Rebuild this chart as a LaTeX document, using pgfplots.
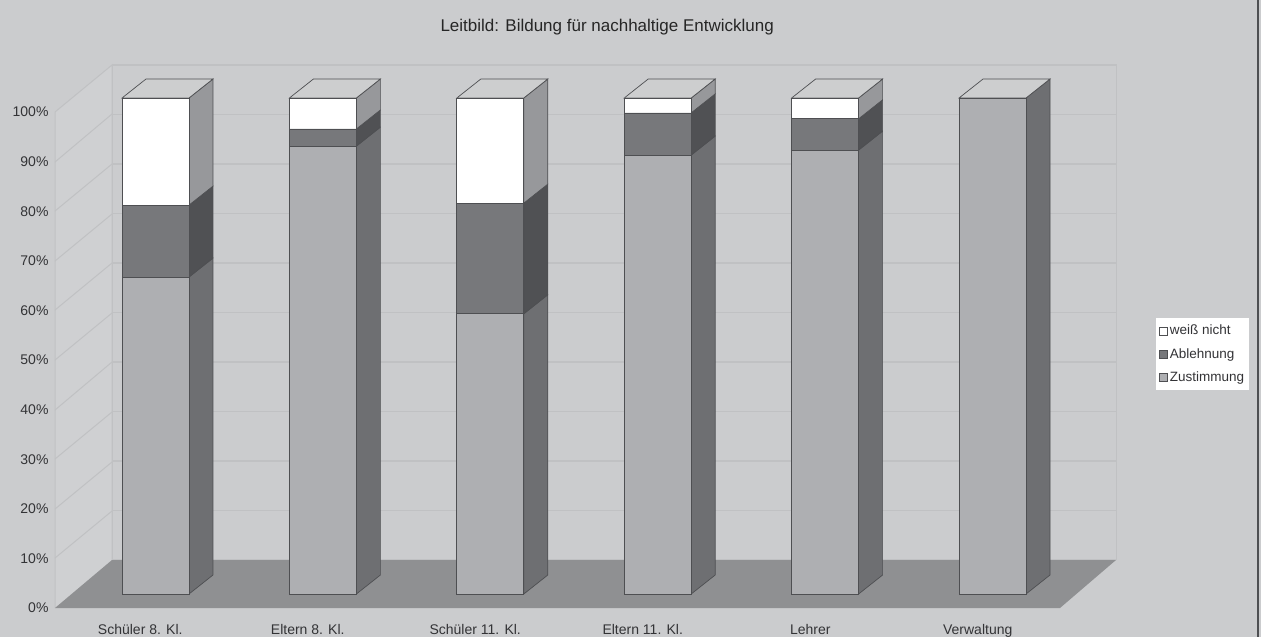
\documentclass[border=0pt]{standalone}
\usepackage{pgfplots}
\pgfplotsset{compat=1.18}
\usepackage{fontspec}
\setmainfont{Liberation Sans}
\definecolor{bgc}{HTML}{CBCCCE}
\definecolor{wallc}{HTML}{CFD0D2}
\definecolor{gridc}{HTML}{C0C1C3}
\definecolor{floorc}{HTML}{8F9092}
\definecolor{edgec}{HTML}{4E4F52}
\definecolor{zusf}{HTML}{AEAFB2}
\definecolor{zuss}{HTML}{6E6F72}
\definecolor{ablf}{HTML}{77787B}
\definecolor{abls}{HTML}{505154}
\definecolor{wnf}{HTML}{FFFFFF}
\definecolor{wns}{HTML}{97989B}
\definecolor{topc}{HTML}{CDCECF}
\definecolor{textc}{HTML}{333336}
\pgfplotsset{
  base/.style={scale only axis,anchor=south west,clip=false,
    tick style={draw=none},ticks=none,axis line style={draw=none}},
  barsaxis/.style={base,at={(0pt,0pt)},width=1261pt,height=637pt,
    xmin=-0.92891,xmax=6.60394,ymin=-8.669,ymax=119.758},
  side/.style={fill=#1,draw=edgec,line width=0.7pt,forget plot},
}
\begin{document}
\begin{tikzpicture}
\path[use as bounding box] (0,0) rectangle (1261pt,637pt);
% page: background, walls, floor, title
\begin{axis}[base,at={(0pt,0pt)},width=1261pt,height=637pt,
  xmin=0,xmax=1261,ymin=0,ymax=637,y dir=reverse,
  axis background/.style={fill=bgc},
  title={Leitbild: Bildung für nachhaltige Entwicklung},
  title style={at={(0.4815,0.948)},anchor=center,font=\fontsize{17}{19}\selectfont,text=black!85}]
\addplot[fill=wallc,draw=none] coordinates {(55,112) (112,65) (112,560) (55,608)} -- cycle;
\addplot[draw=gridc,line width=1pt] coordinates {(55,608) (55,112) (112,65) (112,560)};
\addplot[draw=gridc,line width=1pt] coordinates {(55,162) (112,114)};
\addplot[draw=gridc,line width=1pt] coordinates {(55,211) (112,164)};
\addplot[draw=gridc,line width=1pt] coordinates {(55,261) (112,214)};
\addplot[draw=gridc,line width=1pt] coordinates {(55,310) (112,263)};
\addplot[draw=gridc,line width=1pt] coordinates {(55,360) (112,313)};
\addplot[draw=gridc,line width=1pt] coordinates {(55,410) (112,362)};
\addplot[draw=gridc,line width=1pt] coordinates {(55,459) (112,412)};
\addplot[draw=gridc,line width=1pt] coordinates {(55,509) (112,462)};
\addplot[draw=gridc,line width=1pt] coordinates {(55,558) (112,511)};
\addplot[draw=edgec,line width=2.2pt] coordinates {(1258.2,0) (1258.2,637)};
\end{axis}
% back wall with its grid
\begin{axis}[scale only axis,anchor=south west,at={(112pt,77pt)},width=1004pt,height=495pt,
  xmin=0,xmax=1,ymin=0,ymax=100,xtick=\empty,ytick distance=10,yticklabels={},
  ymajorgrids,grid style={draw=gridc,line width=1.3pt},tick style={draw=none},
  axis line style={draw=gridc,line width=1pt}]
\addplot[draw=none] coordinates {(0,0) (1,100)};
\end{axis}
% floor
\begin{axis}[base,at={(0pt,0pt)},width=1261pt,height=637pt,
  xmin=0,xmax=1261,ymin=0,ymax=637,y dir=reverse]
\addplot[fill=floorc,draw=none] coordinates {(55,608) (112,560) (1116,560) (1060,608)} -- cycle;
\end{axis}
% front axis: tick labels
\begin{axis}[scale only axis,anchor=south west,at={(55pt,29pt)},width=1005pt,height=496pt,
  xmin=-0.5,xmax=5.5,ymin=0,ymax=100,
  axis line style={draw=none},tick style={draw=none},
  ytick distance=10,yticklabel={\pgfmathprintnumber{\tick}\%},
  xtick={0,1,2,3,4,5},
  xticklabels={Schüler 8. Kl.,Eltern 8. Kl.,Schüler 11. Kl.,Eltern 11. Kl.,Lehrer,Verwaltung},
  /pgf/number format/assume math mode=true,
  tick label style={font=\fontsize{14}{16}\selectfont,text=textc},
  yticklabel style={xshift=-3pt},
  xticklabel style={yshift=-12.5pt,xshift=1.5pt}]
\addplot[draw=none] coordinates {(0,0) (5,100)};
\end{axis}
% bar sides and tops
\begin{axis}[barsaxis]
% Schüler 8. Kl.
\addplot[side=zuss] coordinates {(0.2,0) (0.3434,3.83) (0.3434,67.73) (0.2,63.9)} -- cycle;
\addplot[side=abls] coordinates {(0.2,63.9) (0.3434,67.73) (0.3434,82.23) (0.2,78.4)} -- cycle;
\addplot[side=wns] coordinates {(0.2,78.4) (0.3434,82.23) (0.3434,103.83) (0.2,100)} -- cycle;
\addplot[side=topc] coordinates {(-0.2,100) (-0.0566,103.83) (0.3434,103.83) (0.2,100)} -- cycle;
% Eltern 8. Kl.
\addplot[side=zuss] coordinates {(1.2,0) (1.3434,3.83) (1.3434,94.13) (1.2,90.3)} -- cycle;
\addplot[side=abls] coordinates {(1.2,90.3) (1.3434,94.13) (1.3434,97.58) (1.2,93.75)} -- cycle;
\addplot[side=wns] coordinates {(1.2,93.75) (1.3434,97.58) (1.3434,103.83) (1.2,100)} -- cycle;
\addplot[side=topc] coordinates {(0.8,100) (0.9434,103.83) (1.3434,103.83) (1.2,100)} -- cycle;
% Schüler 11. Kl.
\addplot[side=zuss] coordinates {(2.2,0) (2.3434,3.83) (2.3434,60.33) (2.2,56.5)} -- cycle;
\addplot[side=abls] coordinates {(2.2,56.5) (2.3434,60.33) (2.3434,82.63) (2.2,78.8)} -- cycle;
\addplot[side=wns] coordinates {(2.2,78.8) (2.3434,82.63) (2.3434,103.83) (2.2,100)} -- cycle;
\addplot[side=topc] coordinates {(1.8,100) (1.9434,103.83) (2.3434,103.83) (2.2,100)} -- cycle;
% Eltern 11. Kl.
\addplot[side=zuss] coordinates {(3.2,0) (3.3434,3.83) (3.3434,92.33) (3.2,88.5)} -- cycle;
\addplot[side=abls] coordinates {(3.2,88.5) (3.3434,92.33) (3.3434,100.83) (3.2,97)} -- cycle;
\addplot[side=wns] coordinates {(3.2,97) (3.3434,100.83) (3.3434,103.83) (3.2,100)} -- cycle;
\addplot[side=topc] coordinates {(2.8,100) (2.9434,103.83) (3.3434,103.83) (3.2,100)} -- cycle;
% Lehrer
\addplot[side=zuss] coordinates {(4.2,0) (4.3434,3.83) (4.3434,93.33) (4.2,89.5)} -- cycle;
\addplot[side=abls] coordinates {(4.2,89.5) (4.3434,93.33) (4.3434,99.63) (4.2,95.8)} -- cycle;
\addplot[side=wns] coordinates {(4.2,95.8) (4.3434,99.63) (4.3434,103.83) (4.2,100)} -- cycle;
\addplot[side=topc] coordinates {(3.8,100) (3.9434,103.83) (4.3434,103.83) (4.2,100)} -- cycle;
% Verwaltung
\addplot[side=zuss] coordinates {(5.2,0) (5.3434,3.83) (5.3434,103.83) (5.2,100)} -- cycle;
\addplot[side=topc] coordinates {(4.8,100) (4.9434,103.83) (5.3434,103.83) (5.2,100)} -- cycle;
\end{axis}
% bar fronts and legend
\begin{axis}[barsaxis,ybar stacked,bar width=0.4,
  reverse legend,
  legend image code/.code={\draw[#1,line width=0.6pt] (0pt,-4pt) rectangle (8pt,4pt);},
  legend style={at={(axis cs:5.977,55.65)},anchor=north west,draw=none,fill=white,
    font=\fontsize{13.5}{15}\selectfont,text=textc,inner xsep=3pt,inner ysep=5pt,
    row sep=8pt,legend cell align=left,
    /tikz/every even column/.append style={column sep=1pt}}]
\addplot[fill=zusf,draw=edgec,line width=0.7pt] coordinates {(0,63.9) (1,90.3) (2,56.5) (3,88.5) (4,89.5) (5,100)};
\addplot[fill=ablf,draw=edgec,line width=0.7pt] coordinates {(0,14.5) (1,3.45) (2,22.3) (3,8.5) (4,6.3) (5,0)};
\addplot[fill=wnf,draw=edgec,line width=0.7pt] coordinates {(0,21.6) (1,6.25) (2,21.2) (3,3) (4,4.2) (5,0)};
\legend{Zustimmung,Ablehnung,weiß nicht}
\end{axis}
\end{tikzpicture}
\end{document}
